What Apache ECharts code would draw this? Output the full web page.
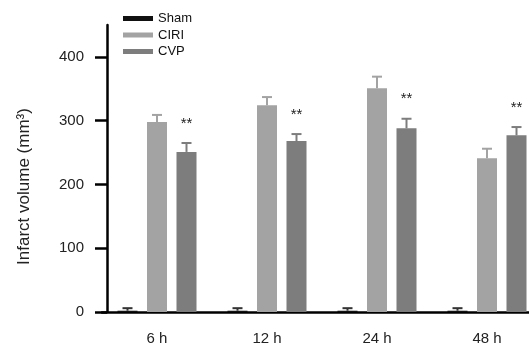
<!DOCTYPE html>
<html>
<head>
<meta charset="utf-8">
<script src="https://cdn.jsdelivr.net/npm/echarts@6/dist/echarts.min.js"></script>
<style>html,body{margin:0;padding:0;background:#fff;}#c{width:529px;height:346px;}</style>
</head>
<body>
<div id="c"></div>
<script>
var categories = ['6 h', '12 h', '24 h', '48 h'];
var seriesNames = ['Sham', 'CIRI', 'CVP'];
var shamValues = [2, 2, 2, 2];
var shamErrors = [4, 4, 4, 4];
var ciriValues = [298, 324, 351, 241];
var ciriErrors = [11, 13, 18, 15];
var cvpValues = [251, 268, 288, 277];
var cvpErrors = [14, 11, 15, 13];
var cvpSignif = ['**', '**', '**', '**'];
var yTicks = [0, 100, 200, 300, 400];

var FONT = '"Liberation Sans", Arial, Helvetica, sans-serif';
var colors = ['#111111', '#a3a3a3', '#7d7d7d'];
var errColors = ['#333333', '#a3a3a3', '#7d7d7d'];
var BAR_W = 20, BAR_GAP_PX = 9.5;

var allValues = [shamValues, ciriValues, cvpValues];
var allErrors = [shamErrors, ciriErrors, cvpErrors];

var series = [];
seriesNames.forEach(function (name, s) {
  series.push({
    name: name,
    type: 'bar',
    data: allValues[s],
    barWidth: BAR_W,
    barGap: (BAR_GAP_PX / BAR_W * 100) + '%',
    itemStyle: { color: colors[s] },
    z: 2
  });
});
seriesNames.forEach(function (name, s) {
  var data = allValues[s].map(function (v, i) {
    return [i, v, allErrors[s][i], s === 2 ? cvpSignif[i] : ''];
  });
  series.push({
    type: 'custom',
    name: name + ' err',
    data: data,
    z: 3,
    silent: true,
    encode: { x: 0, y: 1 },
    renderItem: function (params, api) {
      var idx = api.value(0), v = api.value(1), e = api.value(2);
      var star = data[params.dataIndex][3];
      var off = (s - 1) * (BAR_W + BAR_GAP_PX);
      var top = api.coord([idx, v + e]);
      var base = api.coord([idx, v]);
      var x = top[0] + off;
      var half = 5;
      var children = [
        { type: 'line', shape: { x1: x, y1: base[1], x2: x, y2: top[1] }, style: { stroke: errColors[s], lineWidth: 2 } },
        { type: 'line', shape: { x1: x - half, y1: top[1], x2: x + half, y2: top[1] }, style: { stroke: errColors[s], lineWidth: 2 } }
      ];
      if (star) {
        children.push({ type: 'text', style: { text: star, x: x, y: top[1] - 12, align: 'center', verticalAlign: 'bottom', font: '15px ' + FONT, fill: '#222' } });
      }
      return { type: 'group', children: children };
    }
  });
});

var chart = echarts.init(document.getElementById('c'), null, { renderer: 'canvas' });
chart.setOption({
  animation: false,
  backgroundColor: '#fff',
  textStyle: { fontFamily: FONT },
  grid: { left: 102, width: 440, top: 25, bottom: 34, containLabel: false, outerBoundsMode: 'none' },
  legend: {
    data: seriesNames,
    orient: 'vertical',
    left: 123,
    top: 12,
    padding: 0,
    itemWidth: 30,
    itemHeight: 5,
    itemGap: 3.5,
    icon: 'rect',
    textStyle: { fontFamily: FONT, fontSize: 13, color: '#111' }
  },
  xAxis: {
    type: 'category',
    data: categories,
    boundaryGap: true,
    axisLine: { lineStyle: { color: '#000', width: 2.5 } },
    axisTick: { alignWithLabel: true, length: 10, lineStyle: { color: '#000', width: 2.5 } },
    axisLabel: { fontFamily: FONT, fontSize: 15, color: '#222', margin: 19 }
  },
  yAxis: {
    type: 'value',
    min: 0,
    max: 450,
    interval: 100,
    offset: -5,
    name: 'Infarct volume (mm³)',
    nameLocation: 'middle',
    nameGap: 74,
    nameTextStyle: { fontFamily: FONT, fontSize: 17, color: '#222', padding: [0, 36, 0, 0] },
    splitLine: { show: false },
    axisLine: { show: true, lineStyle: { color: '#000', width: 2.5 } },
    axisTick: { show: true, length: 12, customValues: yTicks, lineStyle: { color: '#000', width: 2.5 } },
    axisLabel: { fontFamily: FONT, fontSize: 15, color: '#222', margin: 23, customValues: yTicks }
  },
  series: series
});
</script>
</body>
</html>
